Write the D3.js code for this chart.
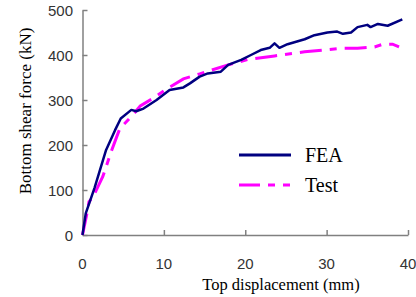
<!DOCTYPE html>
<html>
<head>
<meta charset="utf-8">
<script src="https://cdn.jsdelivr.net/npm/d3@7"></script>
<style>
  body { margin: 0; background: #fff; }
  svg { display: block; }
</style>
</head>
<body>
<div id="chart"></div>
<script>
// FEA curve: [top displacement (mm), bottom shear force (kN)]
var feaData = [
  [0, 0], [0.4, 48], [1.5, 106], [2.9, 189], [4.0, 233], [4.7, 259], [6.0, 278],
  [6.6, 275], [7.5, 281], [9.1, 300], [10.7, 322], [12.4, 328], [13.2, 337],
  [14.4, 352], [15.4, 359], [17.0, 363], [17.9, 378], [19.5, 389], [20.7, 400],
  [21.9, 411], [23.0, 416], [23.6, 426], [24.2, 416], [25.2, 424], [27.3, 435],
  [28.5, 444], [30.1, 450], [31.3, 452], [32.0, 447], [33.0, 450], [33.8, 462],
  [35.0, 467], [35.4, 462], [36.3, 469], [37.5, 465], [39.3, 479]
];
// Test curve
var testData = [
  [0, 0], [0.5, 44], [0.8, 74], [1.3, 85], [2.5, 130], [3.6, 189], [4.2, 218],
  [4.6, 237], [6.2, 267], [7.1, 287], [8.7, 304], [10.3, 324], [12.4, 347],
  [14.4, 358], [15.4, 364], [17.9, 378], [20.3, 390], [23.6, 398], [27.3, 407],
  [31.8, 415], [33.8, 415], [35.9, 418], [36.9, 424], [38.1, 424], [38.9, 418]
];
var xTicks = [0, 10, 20, 30, 40];
var yTicks = [0, 100, 200, 300, 400, 500];
var seriesNames = ["FEA", "Test"];

var W = 416, H = 297;
var svg = d3.select("#chart").append("svg").attr("width", W).attr("height", H);

var x = d3.scaleLinear().domain([0, 40]).range([82.5, 408]);
var y = d3.scaleLinear().domain([0, 500]).range([235, 10]);

var axisColor = "#808080";

// axes (ticks point inward)
var gx = svg.append("g").attr("transform", "translate(0," + y(0) + ")")
  .call(d3.axisTop(x).tickValues(xTicks).tickSize(5).tickSizeOuter(0).tickFormat(""));
var gy = svg.append("g").attr("transform", "translate(" + x(0) + ",0)")
  .call(d3.axisRight(y).tickValues(yTicks).tickSize(5).tickSizeOuter(0).tickFormat(""));
[gx, gy].forEach(function (g) {
  g.select(".domain").attr("stroke", axisColor).attr("stroke-width", 1.5);
  g.selectAll(".tick line").attr("stroke", axisColor).attr("stroke-width", 1.5);
});

// tick labels
var labelFont = "'Liberation Sans', Arial, sans-serif";
svg.append("g").selectAll("text").data(xTicks).enter().append("text")
  .attr("x", function (d) { return x(d); })
  .attr("y", 269)
  .attr("text-anchor", "middle")
  .attr("font-family", labelFont).attr("font-size", 15).attr("fill", "#333")
  .text(function (d) { return d; });
svg.append("g").selectAll("text").data(yTicks).enter().append("text")
  .attr("x", 73)
  .attr("y", function (d) { return y(d) + 5.5; })
  .attr("text-anchor", "end")
  .attr("font-family", labelFont).attr("font-size", 15).attr("fill", "#333")
  .text(function (d) { return d; });

// axis titles
var serif = "'Liberation Serif', 'Times New Roman', serif";
svg.append("text")
  .attr("x", 281).attr("y", 290)
  .attr("text-anchor", "middle")
  .attr("font-family", serif).attr("font-size", 16.5).attr("fill", "#000")
  .text("Top displacement (mm)");
svg.append("text")
  .attr("transform", "translate(31,111) rotate(-90)")
  .attr("text-anchor", "middle")
  .attr("font-family", serif).attr("font-size", 17).attr("fill", "#000")
  .text("Bottom shear force (kN)");

// curves
var line = d3.line()
  .x(function (d) { return x(d[0]); })
  .y(function (d) { return y(d[1]); });

svg.append("path").datum(testData)
  .attr("d", line).attr("fill", "none")
  .attr("stroke", "#ff00ff").attr("stroke-width", 3)
  .attr("stroke-dasharray", "22,8,7,8");
svg.append("path").datum(feaData)
  .attr("d", line).attr("fill", "none")
  .attr("stroke", "#000080").attr("stroke-width", 2.5)
  .attr("stroke-linejoin", "round");

// legend
var legend = svg.append("g");
var legendY = [155, 185];
legend.append("line").attr("x1", 239).attr("x2", 291).attr("y1", legendY[0]).attr("y2", legendY[0])
  .attr("stroke", "#000080").attr("stroke-width", 3);
legend.append("line").attr("x1", 239).attr("x2", 291).attr("y1", legendY[1]).attr("y2", legendY[1])
  .attr("stroke", "#ff00ff").attr("stroke-width", 3).attr("stroke-dasharray", "21,8,7,8,7,10");
legend.selectAll("text").data(seriesNames).enter().append("text")
  .attr("x", 305)
  .attr("y", function (d, i) { return legendY[i] + 7; })
  .attr("font-family", serif).attr("font-size", 20).attr("fill", "#000")
  .text(function (d) { return d; });
</script>
</body>
</html>
